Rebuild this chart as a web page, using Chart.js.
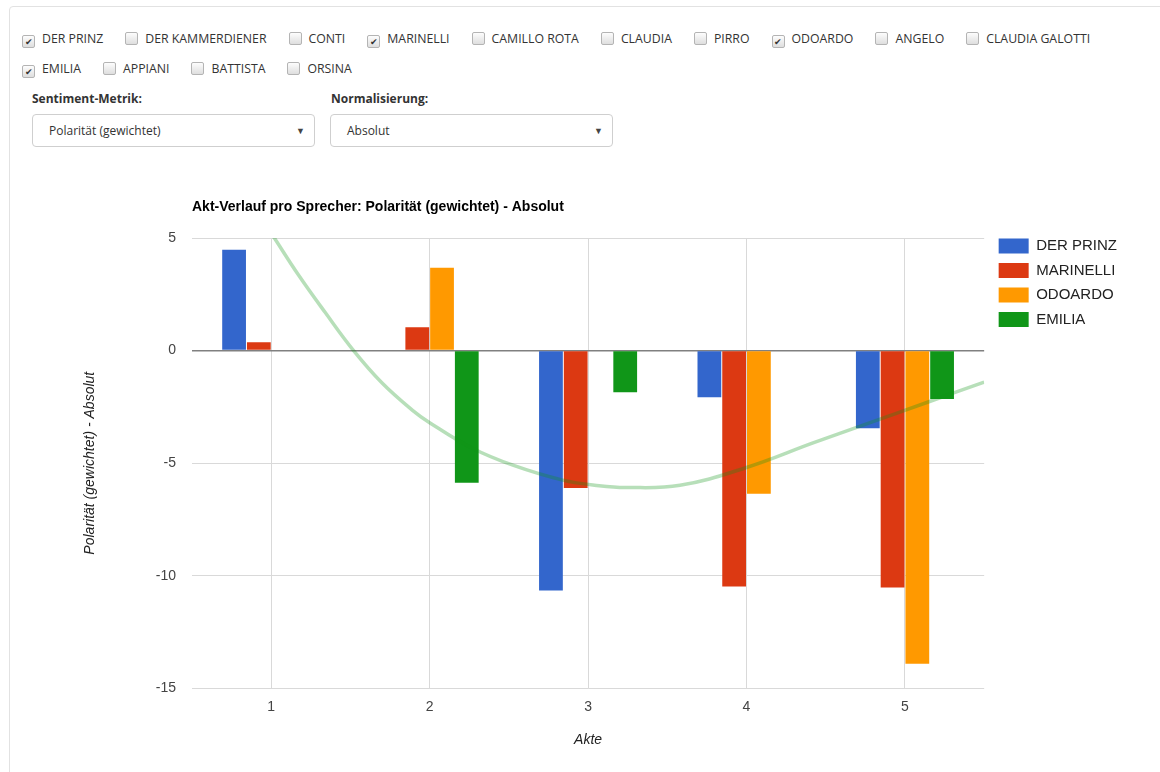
<!DOCTYPE html>
<html>
<head>
<meta charset="utf-8">
<script src="https://cdn.jsdelivr.net/npm/chart.js@4.4.1/dist/chart.umd.min.js"></script>
<style>
  body { margin: 0; background: #fff; font-family: "Open Sans", sans-serif; color: #333; }
  .panel { position: absolute; left: 9px; top: 6px; right: -10px; bottom: -10px; border: 1px solid #e2e2e2; border-radius: 4px; }
  .boxes { position: absolute; left: 22px; top: 24px; font-size: 12.3px; line-height: 30px; white-space: nowrap; }
  .cb { display: inline-block; margin-right: 22px; }
  .cb i { display: inline-block; width: 11px; height: 11px; border: 1px solid #b4b4b4; border-radius: 2px;
          background: linear-gradient(#fdfdfd, #dedede); vertical-align: -2px; margin-right: 7px;
          font-style: normal; font-size: 9px; line-height: 11px; text-align: center; color: #333; }
  .lbl { position: absolute; top: 90px; font-size: 12px; font-weight: bold; color: #333; }
  .sel { position: absolute; top: 114px; width: 281px; height: 31px; border: 1px solid #cfcfcf; border-radius: 4px;
         font-size: 12px; line-height: 31px; text-indent: 16px; color: #333; }
  .sel b { position: absolute; right: 9px; top: 0; font-size: 9px; color: #444; font-weight: normal; text-indent: 0; }
  #wrap { position: absolute; left: 0; top: 170px; width: 1160px; height: 600px; }
</style>
</head>
<body>
<div class="panel"></div>
<div class="boxes">
  <span class="cb"><i>✔</i>DER PRINZ</span><span class="cb"><i></i>DER KAMMERDIENER</span><span class="cb"><i></i>CONTI</span><span class="cb"><i>✔</i>MARINELLI</span><span class="cb"><i></i>CAMILLO ROTA</span><span class="cb"><i></i>CLAUDIA</span><span class="cb"><i></i>PIRRO</span><span class="cb"><i>✔</i>ODOARDO</span><span class="cb"><i></i>ANGELO</span><span class="cb"><i></i>CLAUDIA GALOTTI</span><br>
  <span class="cb"><i>✔</i>EMILIA</span><span class="cb"><i></i>APPIANI</span><span class="cb"><i></i>BATTISTA</span><span class="cb"><i></i>ORSINA</span>
</div>
<div class="lbl" style="left:32px">Sentiment-Metrik:</div>
<div class="lbl" style="left:331px">Normalisierung:</div>
<div class="sel" style="left:32px">Polarität (gewichtet)<b>▼</b></div>
<div class="sel" style="left:330px">Absolut<b>▼</b></div>

<div id="wrap"><canvas id="aktChart"></canvas></div>

<script>
const chartTitle = "Akt-Verlauf pro Sprecher: Polarität (gewichtet) - Absolut";
const acts = ["1", "2", "3", "4", "5"];
const speakers = ["DER PRINZ", "MARINELLI", "ODOARDO", "EMILIA"];
const colors = ["#3366cc", "#dc3912", "#ff9900", "#109618"];

const derPrinz = [4.48, 0, -10.65, -2.07, -3.45];
const marinelli = [0.37, 1.04, -6.1, -10.47, -10.52];
const odoardo = [0, 3.68, 0, -6.36, -13.9];
const emilia = [0, -5.87, -1.85, 0, -2.15];

// trendline (x in acts)
const trendActs = [0.95, 1.02, 1.17, 1.34, 1.52, 1.7, 1.89, 2.0, 2.26, 2.53, 2.84, 3.07, 3.24, 3.58, 4.0, 4.42, 4.74, 5.16, 5.5];
const trendValues = [5.75, 5.0, 3.38, 1.7, 0, -1.44, -2.64, -3.2, -4.3, -5.1, -5.75, -6.0, -6.08, -5.98, -5.19, -4.1, -3.3, -2.25, -1.4];

Chart.defaults.font.family = "Arial, 'Liberation Sans', sans-serif";
Chart.defaults.animation = false;

const leftTitle = {
  id: "leftTitle",
  afterDraw(chart) {
    const { ctx, chartArea } = chart;
    ctx.save();
    ctx.font = "bold 14px Arial, 'Liberation Sans', sans-serif";
    ctx.fillStyle = "#000";
    ctx.textBaseline = "middle";
    ctx.fillText(chartTitle, chartArea.left, chartArea.top - 31);
    ctx.restore();
  },
};

const legendNudge = {
  id: "legendNudge",
  afterLayout(chart) {
    const l = chart.legend;
    l.top -= 9;
    l.bottom -= 9;
    l.left += 5;
    l.right += 5;
  },
};

const series = [derPrinz, marinelli, odoardo, emilia];
const datasets = series.map((vals, i) => ({
  label: speakers[i],
  data: vals,
  backgroundColor: colors[i],
  borderWidth: 0,
  categoryPercentage: 0.625,
  barPercentage: 0.96,
}));
// same category axis, x given as category index (act - 1)
datasets.push({
  type: "line",
  label: "trend",
  parsing: false,
  data: trendActs.map((a, i) => ({ x: a - 1, y: trendValues[i] })),
  borderColor: "rgba(16,150,24,0.3)",
  borderWidth: 3.5,
  pointRadius: 0,
  tension: 0.4,
  clip: 0,
  order: -1,
});

new Chart(document.getElementById("aktChart"), {
  type: "bar",
  data: { labels: acts, datasets },
  plugins: [leftTitle, legendNudge],
  options: {
    responsive: true,
    maintainAspectRatio: false,
    layout: { padding: { left: 70, top: 68, right: 38, bottom: 21 } },
    plugins: {
      tooltip: { enabled: false },
      legend: {
        position: "right",
        align: "start",
        labels: {
          boxWidth: 30,
          boxHeight: 15,
          padding: 9.5,
          color: "#222",
          font: { size: 15 },
          filter: (item) => item.text !== "trend",
        },
      },
    },
    scales: {
      x: {
        grid: { offset: false, color: "#d9d9d9", drawTicks: false },
        border: { display: false },
        ticks: { color: "#444", font: { size: 14 }, padding: 10 },
        title: { display: true, text: "Akte", color: "#222", font: { size: 14, style: "italic" }, padding: { top: 7, bottom: 0 } },
      },
      y: {
        min: -15,
        max: 5,
        ticks: { stepSize: 5, color: "#444", font: { size: 14 }, padding: 16 },
        grid: {
          drawTicks: false,
          color: (c) => (c.tick && c.tick.value === 0 ? "#808080" : "#d9d9d9"),
          lineWidth: (c) => (c.tick && c.tick.value === 0 ? 1.5 : 1),
        },
        border: { display: false },
        title: { display: true, text: "Polarität (gewichtet) - Absolut", color: "#222", font: { size: 14, style: "italic" }, padding: { top: 12, bottom: 0 } },
        afterFit: (scale) => { scale.width = 122; },
      },
    },
  },
});
</script>
</body>
</html>
